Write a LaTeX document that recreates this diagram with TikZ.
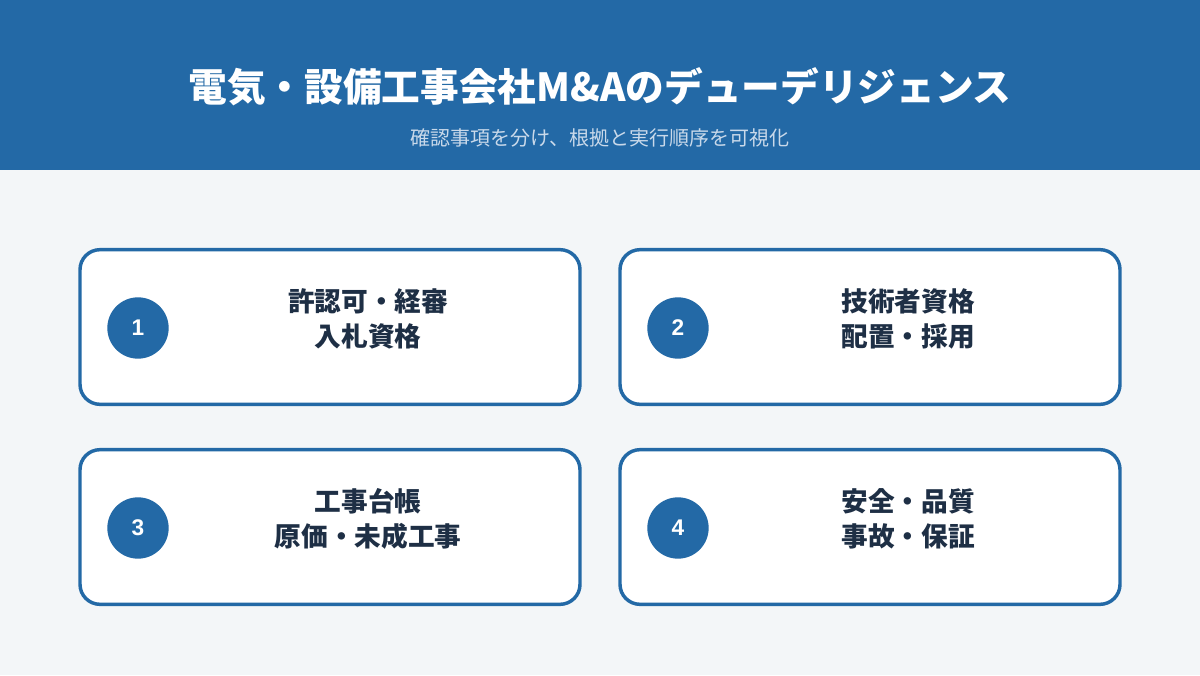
\documentclass[tikz,border=0pt]{standalone}
\usepackage{fontspec}
\setmainfont{Noto Sans CJK JP}
\newfontfamily\numfont{Liberation Sans}
\usepackage{xcolor}
\usetikzlibrary{positioning}

\definecolor{headblue}{HTML}{2369A6}
\definecolor{pagebg}{HTML}{F3F6F8}
\definecolor{inktext}{HTML}{1E2F45}
\definecolor{subtext}{HTML}{C9D9EA}

\begin{document}
\begin{tikzpicture}[
    x=0.75pt, y=-0.75pt,
    card/.style={rectangle, draw=headblue, line width=2.6pt, fill=white, rounded corners=15pt, minimum width=375pt, minimum height=116pt, inner sep=0pt},
    badge/.style={circle, fill=headblue, minimum size=46pt, inner sep=0pt, text=white, font=\numfont\bfseries\fontsize{17}{17}\selectfont},
    label/.style={text=inktext, align=center, font=\bfseries\fontsize{20}{26.5}\selectfont}
]

% Background and header
\fill[pagebg] (0,0) rectangle (1200,675);
\fill[headblue] (0,0) rectangle (1200,170);
\useasboundingbox (0,0) rectangle (1200,675);

\node[text=white, font=\bfseries\fontsize{29}{32}\selectfont] (title) at (600,87) {電気・設備工事会社M\&Aのデューデリジェンス};
\node[text=subtext, font=\fontsize{15}{18}\selectfont] (subtitle) at (600,138) {確認事項を分け、根拠と実行順序を可視化};

% Cards
\node[card] (card1) at (330,327) {};
\node[card] (card2) at (870,327) {};
\node[card] (card3) at (330,527) {};
\node[card] (card4) at (870,527) {};

% Numbers
\node[badge] (num1) at (138,328) {1};
\node[badge] (num2) at (678,328) {2};
\node[badge] (num3) at (138,528) {3};
\node[badge] (num4) at (678,528) {4};

% Texts
\node[label] (text1) at (368,319) {許認可・経審\\入札資格};
\node[label] (text2) at (908,319) {技術者資格\\配置・採用};
\node[label] (text3) at (368,519) {工事台帳\\原価・未成工事};
\node[label] (text4) at (908,519) {安全・品質\\事故・保証};

\end{tikzpicture}
\end{document}
